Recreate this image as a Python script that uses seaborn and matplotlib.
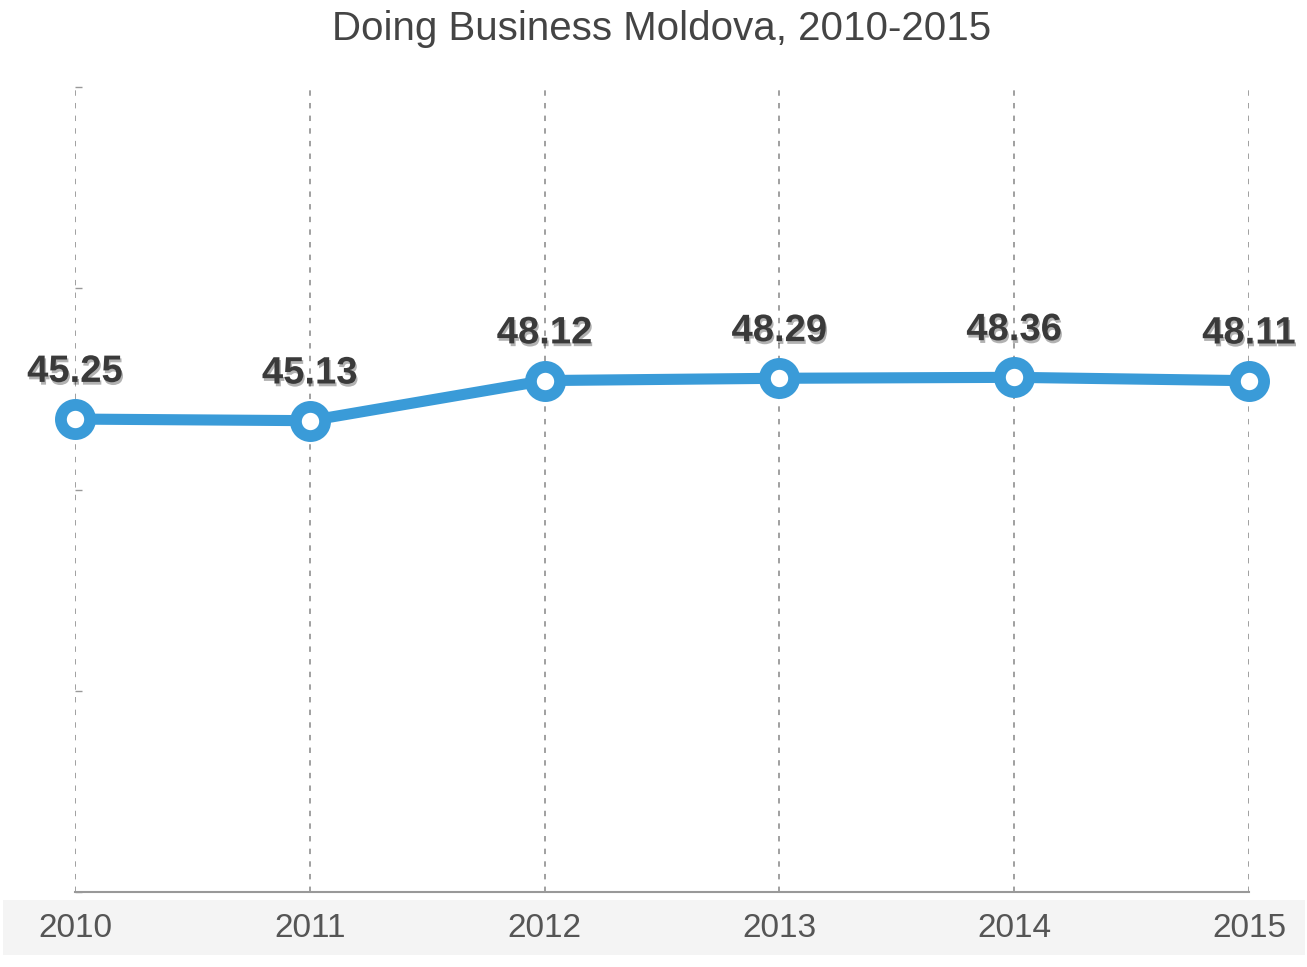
import matplotlib
matplotlib.use("Agg")
import matplotlib.pyplot as plt
import matplotlib.patheffects as pe
from matplotlib.patches import Rectangle
import seaborn as sns
import pandas as pd

years = [2010, 2011, 2012, 2013, 2014, 2015]
scores = [45.25, 45.13, 48.12, 48.29, 48.36, 48.11]
title = "Doing Business Moldova, 2010-2015"

sns.set_theme(style="white")
plt.rcParams['font.family'] = ['Liberation Sans', 'DejaVu Sans']

df = pd.DataFrame({"year": years, "score": scores})

fig = plt.figure(figsize=(13.07, 9.67), dpi=100)
ax = fig.add_axes([75/1307, 1-892/967, (1249-75)/1307, (892-87)/967])

# light grey band behind x tick labels
band = Rectangle((3/1307, 1-955/967), 1302/1307, 55/967,
                 transform=fig.transFigure, facecolor="#f4f4f4",
                 edgecolor="none", zorder=-1)
fig.patches.append(band)

sns.lineplot(data=df, x="year", y="score", ax=ax, color="#3a9bd8", linewidth=8,
             marker="o", markersize=21, markeredgewidth=8.5,
             markerfacecolor="white", markeredgecolor="#3a9bd8", zorder=5,
             clip_on=False)

ax.set_xlim(2010, 2015)
ax.set_ylim(10, 70)
ax.set_xticks(years)
ax.set_xticklabels([str(y) for y in years])
ax.set_yticks([10, 25, 40, 55, 70])
ax.set_yticklabels([])
ax.set_xlabel("")
ax.set_ylabel("")

for x in years:
    ax.axvline(x, color="#999999", linestyle=(0, (3, 4)), linewidth=1.3, zorder=1)

for s in ["left", "right", "top"]:
    ax.spines[s].set_visible(False)
ax.spines["bottom"].set_color("#999999")
ax.spines["bottom"].set_linewidth(1.5)

ax.tick_params(axis="y", direction="in", length=5, color="#999999", left=True, width=1)
ax.tick_params(axis="x", length=0, pad=15, labelsize=24, labelcolor="#555555")

shadow = [pe.withSimplePatchShadow(offset=(1, -2), shadow_rgbFace="#000000", alpha=0.3)]
for x, v in zip(years, scores):
    ax.annotate(f"{v:.2f}", (x, v), xytext=(0, 21), textcoords="offset points",
                ha="center", va="bottom", fontsize=27.5, fontweight="bold",
                color="#3a3a3a", zorder=6, annotation_clip=False,
                path_effects=shadow)

fig.text(662/1307, 1-29/967, title, ha="center", va="center", fontsize=29,
         color="#444444")

fig.savefig("out.png", dpi=100, facecolor="white")
